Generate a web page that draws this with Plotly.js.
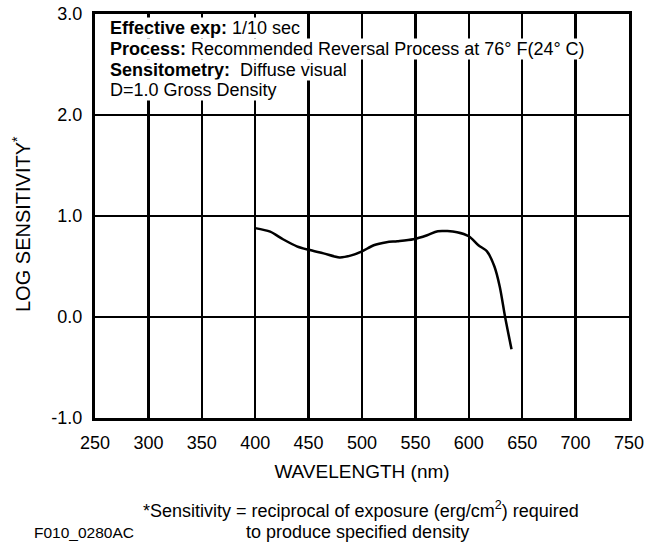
<!DOCTYPE html>
<html>
<head>
<meta charset="utf-8">
<script src="https://cdn.plot.ly/plotly-3.0.1.min.js"></script>
<style>html,body{margin:0;padding:0;background:#fff;}#chart{width:662px;height:546px;}</style>
</head>
<body>
<div id="chart"></div>
<script>
// Data
const wavelength = [400, 414, 426, 439, 450, 464, 479, 490, 500, 511, 523, 533, 548, 561, 571, 589, 600, 609, 617, 624, 629, 634, 640];
const logSensitivity = [0.88, 0.845, 0.77, 0.70, 0.665, 0.63, 0.59, 0.61, 0.65, 0.71, 0.74, 0.75, 0.77, 0.81, 0.85, 0.84, 0.80, 0.71, 0.65, 0.50, 0.30, 0.0, -0.32];
const xTickVals = [250, 300, 350, 400, 450, 500, 550, 600, 650, 700, 750];
const yTickVals = [-1, 0, 1, 2, 3];
const yTickText = ['-1.0', '0.0', '1.0', '2.0', '3.0'];
const xTitle = 'WAVELENGTH (nm)';
const yTitle = 'LOG SENSITIVITY<sup>*</sup>';
const infoLines = [
  '<b>Effective exp:</b> 1/10 sec',
  '<b>Process:</b> Recommended Reversal Process at 76\u00b0 F(24\u00b0 C)',
  '<b>Sensitometry:</b>\u00a0 Diffuse visual',
  'D=1.0 Gross Density'
];
const footLines = [
  '*Sensitivity = reciprocal of exposure (erg/cm<sup>2</sup>) required',
  'to produce specified density'
];
const figCode = 'F010_0280AC';

const FONT = 'Liberation Sans, Arial, Helvetica, sans-serif';
const L = 95, R = 33, T = 14, B = 128, W = 662, H = 546;
const pw = W - L - R, ph = H - T - B;
const px2x = p => (p - L) / pw;
const py2y = p => (H - B - p) / ph;

const annotations = [];
const lineY = [28, 49, 70, 90.5];
infoLines.forEach((t, i) => {
  annotations.push({
    text: t, xref: 'paper', yref: 'paper', x: px2x(109), y: py2y(lineY[i]),
    xanchor: 'left', yanchor: 'middle', showarrow: false, align: 'left',
    bgcolor: '#ffffff', borderpad: 0, font: {family: FONT, size: 18, color: '#000'}
  });
});
annotations.push({
  text: yTitle, xref: 'paper', yref: 'paper', x: px2x(21), y: py2y(224),
  xanchor: 'center', yanchor: 'middle', textangle: -90, showarrow: false,
  font: {family: FONT, size: 20, color: '#000'}
});
annotations.push({
  text: footLines[0], xref: 'paper', yref: 'paper', x: px2x(361), y: py2y(509),
  xanchor: 'center', yanchor: 'middle', showarrow: false, font: {family: FONT, size: 18, color: '#000'}
});
annotations.push({
  text: footLines[1], xref: 'paper', yref: 'paper', x: px2x(357), y: py2y(532),
  xanchor: 'center', yanchor: 'middle', showarrow: false, font: {family: FONT, size: 18, color: '#000'}
});
annotations.push({
  text: figCode, xref: 'paper', yref: 'paper', x: px2x(32), y: py2y(532),
  xanchor: 'left', yanchor: 'middle', showarrow: false, font: {family: FONT, size: 15.5, color: '#000'}
});

const trace = {
  x: wavelength, y: logSensitivity, type: 'scatter', mode: 'lines',
  line: {color: '#000', width: 2.5, shape: 'spline', smoothing: 0.8},
  hoverinfo: 'skip'
};

const axisCommon = {
  showgrid: true, gridcolor: '#000', gridwidth: 2.5,
  showline: true, linecolor: '#000', linewidth: 3, mirror: true,
  ticks: '', zeroline: false, fixedrange: true,
  tickfont: {family: FONT, size: 18, color: '#000'}
};

const layout = {
  width: W, height: H,
  margin: {l: L, r: R, t: T, b: B, pad: 0},
  paper_bgcolor: '#fff', plot_bgcolor: '#fff',
  showlegend: false,
  font: {family: FONT, color: '#000'},
  xaxis: Object.assign({}, axisCommon, {
    range: [250, 750], tickvals: xTickVals, ticktext: xTickVals.map(String),
    ticklabelstandoff: 6,
    title: {text: xTitle, font: {family: FONT, size: 19, color: '#000'}, standoff: 14}
  }),
  yaxis: Object.assign({}, axisCommon, {
    range: [-1, 3], tickvals: yTickVals, ticktext: yTickText,
    ticklabelstandoff: 6
  }),
  annotations: annotations
};

Plotly.newPlot('chart', [trace], layout, {displayModeBar: false, staticPlot: true});
</script>
</body>
</html>
